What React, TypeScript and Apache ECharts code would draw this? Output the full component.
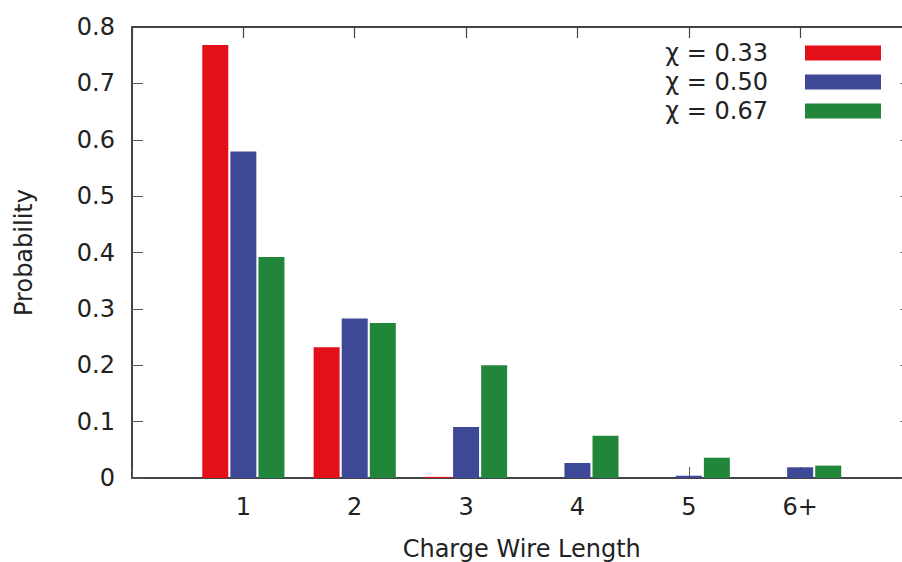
import React, { useEffect, useRef } from "react";
import * as echarts from "echarts";

const categories = ["1", "2", "3", "4", "5", "6+"];
const seriesNames = ["χ = 0.33", "χ = 0.50", "χ = 0.67"];
const chi033 = [0.768, 0.232, 0.002, 0, 0, 0];
const chi050 = [0.579, 0.283, 0.0905, 0.0266, 0.004, 0.019];
const chi067 = [0.392, 0.275, 0.2, 0.075, 0.036, 0.022];
const yTicks = [0, 0.1, 0.2, 0.3, 0.4, 0.5, 0.6, 0.7, 0.8];
const colors = ["#e3101a", "#3d4997", "#21863a"];

const FONT = "DejaVu Sans";

const lineStyle = () => ({ color: "#444444", width: 2 });
const tickStyle = () => ({ color: "#555555", width: 1 });

export default function App() {
  const ref = useRef<HTMLDivElement>(null);
  useEffect(() => {
    document.body.style.margin = "0";
    const chart = echarts.init(ref.current!, null, { renderer: "svg" });
    const allSeries = [chi033, chi050, chi067];
    chart.setOption({
      animation: false,
      backgroundColor: "#ffffff",
      textStyle: { fontFamily: FONT },
      grid: {
        show: false,
        left: 132,
        top: 27,
        right: -9.5,
        bottom: 84,
        containLabel: false,
        outerBoundsMode: "none",
      },
      graphic: [
        {
          type: "line",
          z: 100,
          shape: { x1: 132, y1: 27, x2: 902, y2: 27 },
          style: { stroke: "#444444", lineWidth: 2 },
        },
      ],
      legend: {
        orient: "vertical",
        right: 21,
        top: 41,
        align: "right",
        itemWidth: 76,
        itemHeight: 15,
        itemGap: 5,
        icon: "rect",
        padding: 0,
        textStyle: {
          fontFamily: FONT,
          fontSize: 24,
          color: "#222",
          padding: [0, 32, 0, 0],
        },
        data: seriesNames,
      },
      xAxis: [
        {
          type: "value",
          min: 0,
          max: categories.length + 1,
          interval: 1,
          position: "bottom",
          offset: 0,
          axisLine: { show: true, onZero: false, lineStyle: lineStyle() },
          axisTick: { show: true, inside: true, length: 11, lineStyle: tickStyle() },
          splitLine: { show: false },
          axisLabel: {
            fontFamily: FONT,
            fontSize: 24,
            color: "#222",
            margin: 17,
            formatter: (v: number) => (v >= 1 && v <= categories.length ? categories[v - 1] : ""),
          },
          name: "Charge Wire Length",
          nameLocation: "middle",
          nameGap: 59,
          nameTextStyle: { fontFamily: FONT, fontSize: 24, color: "#222" },
        },
        {
          type: "value",
          min: 0,
          max: categories.length + 1,
          interval: 1,
          position: "top",
          offset: 0,
          z: 50,
          axisLine: { show: true, onZero: false, lineStyle: { color: "#444444", width: 2 } },
          axisTick: { show: true, inside: true, length: 11, lineStyle: { color: "#444444", width: 1.2 } },
          splitLine: { show: false },
          axisLabel: { show: false },
        },
      ],
      yAxis: [
        {
          type: "value",
          min: 0,
          max: yTicks[yTicks.length - 1],
          interval: 0.1,
          position: "left",
          offset: 0,
          axisLine: { show: true, onZero: false, lineStyle: lineStyle() },
          axisTick: { show: true, inside: true, length: 11, lineStyle: tickStyle() },
          splitLine: { show: false },
          axisLabel: {
            fontFamily: FONT,
            fontSize: 24,
            color: "#222",
            margin: 17,
            formatter: (v: number) => {
              const r = Math.round(v * 10) / 10;
              return r === 0 ? "0" : r.toFixed(1);
            },
          },
          name: "Probability",
          nameLocation: "middle",
          nameGap: 96,
          nameTextStyle: { fontFamily: FONT, fontSize: 24, color: "#222" },
        },
        {
          type: "value",
          min: 0,
          max: yTicks[yTicks.length - 1],
          interval: 0.1,
          position: "right",
          offset: 0,
          axisLine: { show: true, onZero: false, lineStyle: lineStyle() },
          axisTick: { show: true, inside: true, length: 11, lineStyle: tickStyle() },
          splitLine: { show: false },
          axisLabel: { show: false },
        },
      ],
      series: allSeries.map((vals, si) => ({
        type: "bar",
        name: seriesNames[si],
        xAxisIndex: 0,
        yAxisIndex: 0,
        barWidth: 26,
        barGap: "8%",
        itemStyle: { color: colors[si] },
        data: vals.map((v, i) => [i + 1, v]),
      })),
    });
    return () => chart.dispose();
  }, []);
  return (
    <div
      ref={ref}
      style={{ position: "absolute", left: 0, top: 0, width: 902, height: 562 }}
    />
  );
}
